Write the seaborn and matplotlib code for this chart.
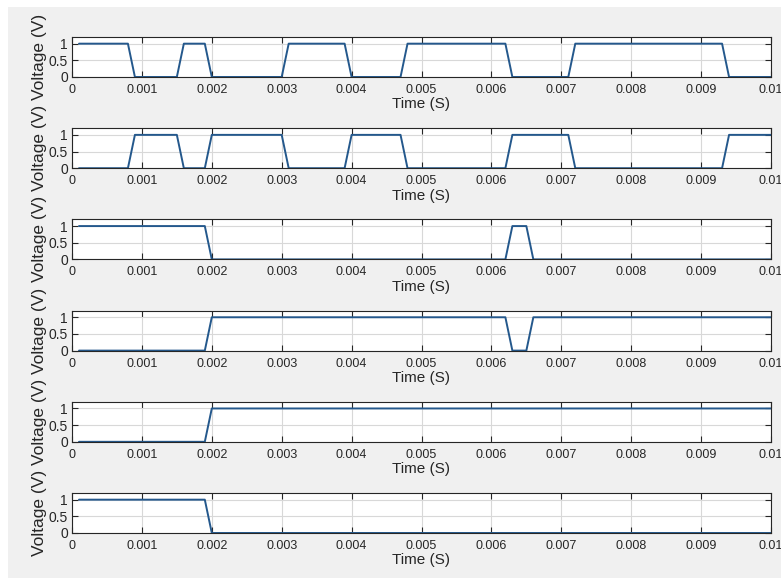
import numpy as np
import pandas as pd
import matplotlib
matplotlib.use("Agg")
import matplotlib.pyplot as plt
import seaborn as sns
from matplotlib.patches import Rectangle

# switching signals, breakpoints (time in s, voltage in V)
t_a = [0.0001, 0.0008, 0.0009, 0.0015, 0.0016, 0.0019, 0.0020, 0.0030, 0.0031, 0.0039,
       0.0040, 0.0047, 0.0048, 0.0062, 0.0063, 0.0071, 0.0072, 0.0093, 0.0094, 0.0100]
v1 = [1, 1, 0, 0, 1, 1, 0, 0, 1, 1, 0, 0, 1, 1, 0, 0, 1, 1, 0, 0]
v2 = [0, 0, 1, 1, 0, 0, 1, 1, 0, 0, 1, 1, 0, 0, 1, 1, 0, 0, 1, 1]

t_b = [0.0001, 0.0019, 0.0020, 0.0062, 0.0063, 0.0065, 0.0066, 0.0100]
v3 = [1, 1, 0, 0, 1, 1, 0, 0]
v4 = [0, 0, 1, 1, 0, 0, 1, 1]

t_c = [0.0001, 0.0019, 0.0020, 0.0100]
v5 = [0, 0, 1, 1]
v6 = [1, 1, 0, 0]

signals = [(t_a, v1), (t_a, v2), (t_b, v3), (t_b, v4), (t_c, v5), (t_c, v6)]

xticks = [0, 0.001, 0.002, 0.003, 0.004, 0.005, 0.006, 0.007, 0.008, 0.009, 0.01]
xticklabels = ["0", "0.001", "0.002", "0.003", "0.004", "0.005", "0.006", "0.007", "0.008", "0.009", "0.01"]
yticks = [0, 0.5, 1]
yticklabels = ["0", "0.5", "1"]

sns.set_style("white")
plt.rcParams["font.family"] = ["Liberation Sans", "DejaVu Sans"]

W, H = 781, 583
fig = plt.figure(figsize=(W / 100, H / 100), dpi=100)
fig.patch.set_facecolor("white")
fig.patches.append(Rectangle((8 / W, 5 / H), 1, 1 - 12 / H, transform=fig.transFigure,
                             facecolor="#f0f0f0", edgecolor="none", zorder=-10))

line_col = "#24588c"
for i, (t, v) in enumerate(signals):
    top = 37 + i * 91.2
    ax = fig.add_axes([72 / W, 1 - (top + 40) / H, 699 / W, 40 / H])
    df = pd.DataFrame({"Time": t, "Voltage": v})
    sns.lineplot(data=df, x="Time", y="Voltage", ax=ax, color=line_col, linewidth=1.4)
    ax.set_xlim(0, 0.01)
    ax.set_ylim(0, 1.2)
    ax.set_xticks(xticks)
    ax.set_xticklabels(xticklabels, fontsize=9)
    ax.set_yticks(yticks)
    ax.set_yticklabels(yticklabels, fontsize=10)
    ax.tick_params(axis="x", pad=5)
    ax.tick_params(axis="y", pad=3)
    ax.tick_params(direction="in", length=4, width=0.8, top=True, right=True,
                   bottom=True, left=True, colors="#262626")
    ax.grid(True, color="#d8d8d8", linewidth=0.8)
    ax.set_facecolor("white")
    for s in ax.spines.values():
        s.set_color("#262626")
        s.set_linewidth(0.8)
    ax.set_xlabel("Time (S)", fontsize=11, labelpad=1)
    ax.set_ylabel("Voltage (V)", fontsize=12.5, labelpad=1)

fig.savefig("out.png", dpi=100, facecolor=fig.get_facecolor())
